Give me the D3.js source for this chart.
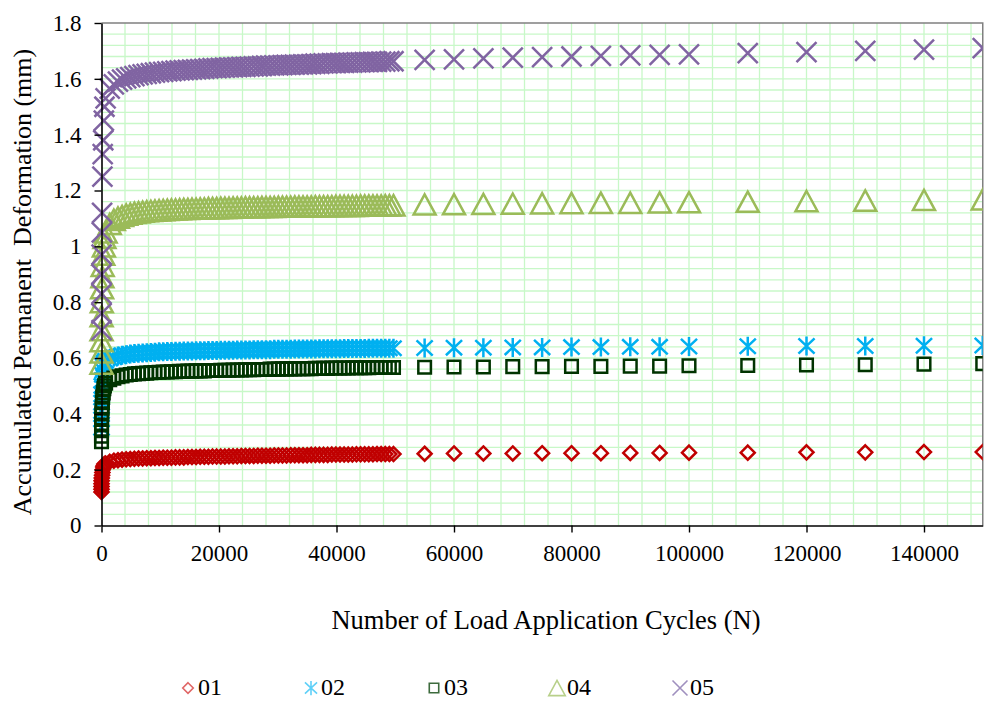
<!doctype html>
<html lang="en">
<head>
<meta charset="utf-8">
<title>Accumulated permanent deformation</title>
<style>
  body { margin: 0; background: #fff; }
  svg text { font-family: "Liberation Serif", "DejaVu Serif", serif !important; fill: #000; }
</style>
</head>
<body>
<script src="https://d3js.org/d3.v7.min.js"></script>
<script>
// load cycles (N) shared by every series
var cycles = [1, 2, 5, 10, 20, 50, 100, 150, 200, 300, 400, 500,
  700, 1400, 2100, 2800, 3500, 4200, 4900, 5600, 6300, 7000,
  7700, 8400, 9100, 9800, 10500, 11200, 11900, 12600, 13300, 14000,
  14700, 15400, 16100, 16800, 17500, 18200, 18900, 19600, 20300, 21000,
  21700, 22400, 23100, 23800, 24500, 25200, 25900, 26600, 27300, 28000,
  28700, 29400, 30100, 30800, 31500, 32200, 32900, 33600, 34300, 35000,
  35700, 36400, 37100, 37800, 38500, 39200, 39900, 40600, 41300, 42000,
  42700, 43400, 44100, 44800, 45500, 46200, 46900, 47600, 48300, 49000, 49700,
  55000, 60000, 65000, 70000, 75000, 80000, 85000, 90000, 95000, 100000,
  110000, 120000, 130000, 140000, 150000];

var s01 = [0.12, 0.13, 0.14, 0.15, 0.16, 0.17, 0.18, 0.19, 0.20, 0.21, 0.215, 0.22,
  0.222, 0.228, 0.232, 0.234, 0.236, 0.237, 0.238, 0.239, 0.240, 0.240,
  0.241, 0.241, 0.242, 0.242, 0.243, 0.243, 0.243, 0.244, 0.244, 0.244,
  0.245, 0.245, 0.245, 0.246, 0.246, 0.246, 0.247, 0.247, 0.247, 0.247,
  0.248, 0.248, 0.248, 0.249, 0.249, 0.249, 0.249, 0.250, 0.250, 0.250,
  0.250, 0.251, 0.251, 0.251, 0.251, 0.252, 0.252, 0.252, 0.252, 0.252,
  0.253, 0.253, 0.253, 0.253, 0.253, 0.254, 0.254, 0.254, 0.254, 0.254,
  0.254, 0.255, 0.255, 0.255, 0.255, 0.255, 0.256, 0.256, 0.256, 0.256, 0.256,
  0.257, 0.258, 0.258, 0.258, 0.259, 0.259, 0.259, 0.260, 0.260, 0.261,
  0.261, 0.262, 0.262, 0.263, 0.263];

var s02 = [0.35, 0.38, 0.41, 0.44, 0.47, 0.50, 0.52, 0.54, 0.555, 0.57, 0.58, 0.585,
  0.590, 0.598, 0.603, 0.607, 0.610, 0.612, 0.614, 0.616, 0.617, 0.618,
  0.619, 0.620, 0.621, 0.622, 0.622, 0.623, 0.623, 0.624, 0.624, 0.625,
  0.625, 0.625, 0.626, 0.626, 0.626, 0.627, 0.627, 0.627, 0.628, 0.628,
  0.628, 0.628, 0.629, 0.629, 0.629, 0.629, 0.630, 0.630, 0.630, 0.630,
  0.630, 0.631, 0.631, 0.631, 0.631, 0.631, 0.632, 0.632, 0.632, 0.632,
  0.632, 0.632, 0.633, 0.633, 0.633, 0.633, 0.633, 0.633, 0.634, 0.634,
  0.634, 0.634, 0.634, 0.634, 0.635, 0.635, 0.635, 0.635, 0.635, 0.635, 0.635,
  0.636, 0.637, 0.637, 0.638, 0.638, 0.639, 0.639, 0.640, 0.640, 0.641,
  0.642, 0.643, 0.643, 0.644, 0.645];

var s03 = [0.30, 0.32, 0.34, 0.36, 0.38, 0.40, 0.42, 0.44, 0.46, 0.475, 0.49, 0.50,
  0.510, 0.522, 0.528, 0.533, 0.536, 0.539, 0.541, 0.543, 0.544, 0.545,
  0.546, 0.547, 0.548, 0.549, 0.550, 0.550, 0.551, 0.551, 0.552, 0.552,
  0.553, 0.553, 0.554, 0.554, 0.554, 0.555, 0.555, 0.555, 0.556, 0.556,
  0.556, 0.557, 0.557, 0.557, 0.558, 0.558, 0.558, 0.559, 0.559, 0.559,
  0.560, 0.560, 0.560, 0.561, 0.561, 0.561, 0.561, 0.562, 0.562, 0.562,
  0.562, 0.563, 0.563, 0.563, 0.563, 0.564, 0.564, 0.564, 0.564, 0.564,
  0.565, 0.565, 0.565, 0.565, 0.565, 0.566, 0.566, 0.566, 0.566, 0.566, 0.566,
  0.567, 0.568, 0.568, 0.569, 0.569, 0.570, 0.570, 0.571, 0.571, 0.572,
  0.573, 0.575, 0.576, 0.578, 0.580];

var s04 = [0.58, 0.62, 0.66, 0.70, 0.75, 0.80, 0.85, 0.89, 0.93, 0.97, 1.00, 1.03,
  1.050, 1.080, 1.095, 1.103, 1.109, 1.114, 1.117, 1.120, 1.122, 1.124,
  1.126, 1.127, 1.128, 1.129, 1.130, 1.131, 1.132, 1.132, 1.133, 1.134,
  1.134, 1.135, 1.135, 1.136, 1.136, 1.137, 1.137, 1.137, 1.138, 1.138,
  1.138, 1.139, 1.139, 1.139, 1.140, 1.140, 1.140, 1.140, 1.141, 1.141,
  1.141, 1.141, 1.142, 1.142, 1.142, 1.142, 1.143, 1.143, 1.143, 1.143,
  1.143, 1.144, 1.144, 1.144, 1.144, 1.144, 1.145, 1.145, 1.145, 1.145,
  1.145, 1.145, 1.146, 1.146, 1.146, 1.146, 1.146, 1.146, 1.147, 1.147, 1.147,
  1.150, 1.151, 1.152, 1.153, 1.154, 1.155, 1.156, 1.156, 1.157, 1.158,
  1.160, 1.162, 1.164, 1.166, 1.168];

var s05 = [0.70, 0.76, 0.83, 0.90, 0.97, 1.05, 1.12, 1.25, 1.33, 1.38, 1.45, 1.50,
  1.530, 1.565, 1.580, 1.590, 1.597, 1.602, 1.606, 1.610, 1.613, 1.616,
  1.618, 1.620, 1.622, 1.624, 1.625, 1.627, 1.628, 1.629, 1.630, 1.631,
  1.632, 1.633, 1.634, 1.635, 1.636, 1.637, 1.638, 1.638, 1.639, 1.640,
  1.641, 1.641, 1.642, 1.643, 1.643, 1.644, 1.645, 1.645, 1.646, 1.647,
  1.647, 1.648, 1.648, 1.649, 1.650, 1.650, 1.651, 1.651, 1.652, 1.652,
  1.653, 1.654, 1.654, 1.655, 1.655, 1.656, 1.656, 1.657, 1.657, 1.658,
  1.658, 1.659, 1.659, 1.660, 1.660, 1.661, 1.661, 1.662, 1.662, 1.663, 1.663,
  1.668, 1.670, 1.673, 1.676, 1.678, 1.680, 1.682, 1.684, 1.686, 1.688,
  1.692, 1.696, 1.700, 1.705, 1.710];

var seriesNames = ["01", "02", "03", "04", "05"];
var seriesValues = [s01, s02, s03, s04, s05];
var xTicks = [0, 20000, 40000, 60000, 80000, 100000, 120000, 140000];
var yTicks = [0, 0.2, 0.4, 0.6, 0.8, 1, 1.2, 1.4, 1.6, 1.8];

var colors = ["#c00000", "#00b0f0", "#003300", "#9bbb59", "#8064a2"];
var legendColors = ["#e06666", "#5fd0f8", "#3d6b3d", "#b8d08a", "#a090bf"];

// marker shapes, size = half width in px
var diamond = { draw: function(c, r) { c.moveTo(0, -r); c.lineTo(r, 0); c.lineTo(0, r); c.lineTo(-r, 0); c.closePath(); } };
var star = { draw: function(c, r) {
  c.moveTo(0, -r); c.lineTo(0, r);
  c.moveTo(-0.85 * r, -0.8 * r); c.lineTo(0.85 * r, 0.8 * r);
  c.moveTo(0.85 * r, -0.8 * r); c.lineTo(-0.85 * r, 0.8 * r);
} };
var square = { draw: function(c, r) { c.rect(-r, -r, 2 * r, 2 * r); } };
var triangle = { draw: function(c, r) { var h = r * 0.92; c.moveTo(0, -h); c.lineTo(r, h); c.lineTo(-r, h); c.closePath(); } };
var cross = { draw: function(c, r) { c.moveTo(-r, -r); c.lineTo(r, r); c.moveTo(r, -r); c.lineTo(-r, r); } };
var shapes = [diamond, star, square, triangle, cross];
var sizes = [7, 9.5, 6.3, 11, 10];

var W = 989, H = 701;
var x0 = 101.5, x1 = 982.75, yTop = 23, yBot = 525.5;

var x = d3.scaleLinear().domain([0, 150000]).range([x0, x1]);
var y = d3.scaleLinear().domain([0, 1.8]).range([yBot, yTop]);

var svg = d3.select("body").append("svg")
    .attr("width", W)
    .attr("height", H)
    .attr("font-family", "Liberation Serif");

svg.append("clipPath").attr("id", "plotclip")
  .append("rect")
    .attr("x", x0 - 25).attr("y", 0)
    .attr("width", x1 - x0 + 25).attr("height", yBot);

// light green grid
var grid = svg.append("g").attr("stroke", "#c8f8c8").attr("stroke-width", 1.3);
grid.selectAll("line.v")
    .data(d3.range(4000, 150000, 4000))
    .enter().append("line")
    .attr("x1", function(d) { return x(d); })
    .attr("x2", function(d) { return x(d); })
    .attr("y1", yTop).attr("y2", yBot);
grid.selectAll("line.h")
    .data(d3.range(1, 45).map(function(i) { return i * 0.04; }))
    .enter().append("line")
    .attr("y1", function(d) { return y(d); })
    .attr("y2", function(d) { return y(d); })
    .attr("x1", x0).attr("x2", x1);

// top and right frame
svg.append("path")
    .attr("d", "M" + x0 + "," + yTop + "H" + x1 + "V" + yBot)
    .attr("fill", "none")
    .attr("stroke", "#808080")
    .attr("stroke-width", 1.5);

// markers, series 01 drawn first
var marks = svg.append("g").attr("clip-path", "url(#plotclip)");
seriesValues.forEach(function(vals, i) {
  var sym = d3.symbol().type(shapes[i]).size(sizes[i]);
  marks.append("g")
      .attr("fill", "none")
      .attr("stroke", colors[i])
      .attr("stroke-width", 2.5)
    .selectAll("path")
    .data(vals)
    .enter().append("path")
      .attr("transform", function(d, j) { return "translate(" + x(cycles[j]) + "," + y(d) + ")"; })
      .attr("d", sym);
});

// axes
var xAxis = svg.append("g")
    .attr("transform", "translate(0," + yBot + ")")
    .call(d3.axisBottom(x).tickValues(xTicks).tickFormat(d3.format("d")).tickSize(7).tickSizeOuter(0));
var yAxis = svg.append("g")
    .attr("transform", "translate(" + x0 + ",0)")
    .call(d3.axisLeft(y).tickValues(yTicks).tickFormat(function(d) { return String(d); }).tickSize(7).tickSizeOuter(0));
[xAxis, yAxis].forEach(function(a) {
  a.attr("font-family", null);
  a.select(".domain").attr("stroke", "#000").attr("stroke-width", 1.6);
  a.selectAll(".tick line").attr("stroke", "#000").attr("stroke-width", 1.4);
  a.selectAll("text").attr("font-size", 23);
});
xAxis.selectAll("text").attr("dy", "1.1em");
yAxis.selectAll("text").attr("x", -20);

// axis titles
svg.append("text")
    .attr("x", 546).attr("y", 629)
    .attr("text-anchor", "middle")
    .attr("font-size", 26.5)
    .text("Number of Load Application Cycles (N)");
svg.append("text")
    .attr("transform", "translate(31," + 282 + ") rotate(-90)")
    .attr("text-anchor", "middle")
    .attr("font-size", 26)
    .style("white-space", "pre")
    .text("Accumulated Permanent  Deformation (mm)");

// legend
var legend = svg.append("g").attr("transform", "translate(0,688)");
seriesNames.forEach(function(name, i) {
  var lx = 188 + i * 123;
  legend.append("path")
      .attr("transform", "translate(" + lx + ",0)")
      .attr("d", d3.symbol().type(shapes[i]).size(sizes[i] * 0.75)())
      .attr("fill", "none")
      .attr("stroke", legendColors[i])
      .attr("stroke-width", 1.6);
  legend.append("text")
      .attr("x", lx + 10).attr("y", 7)
      .attr("font-size", 24)
      .text(name);
});
</script>
</body>
</html>
